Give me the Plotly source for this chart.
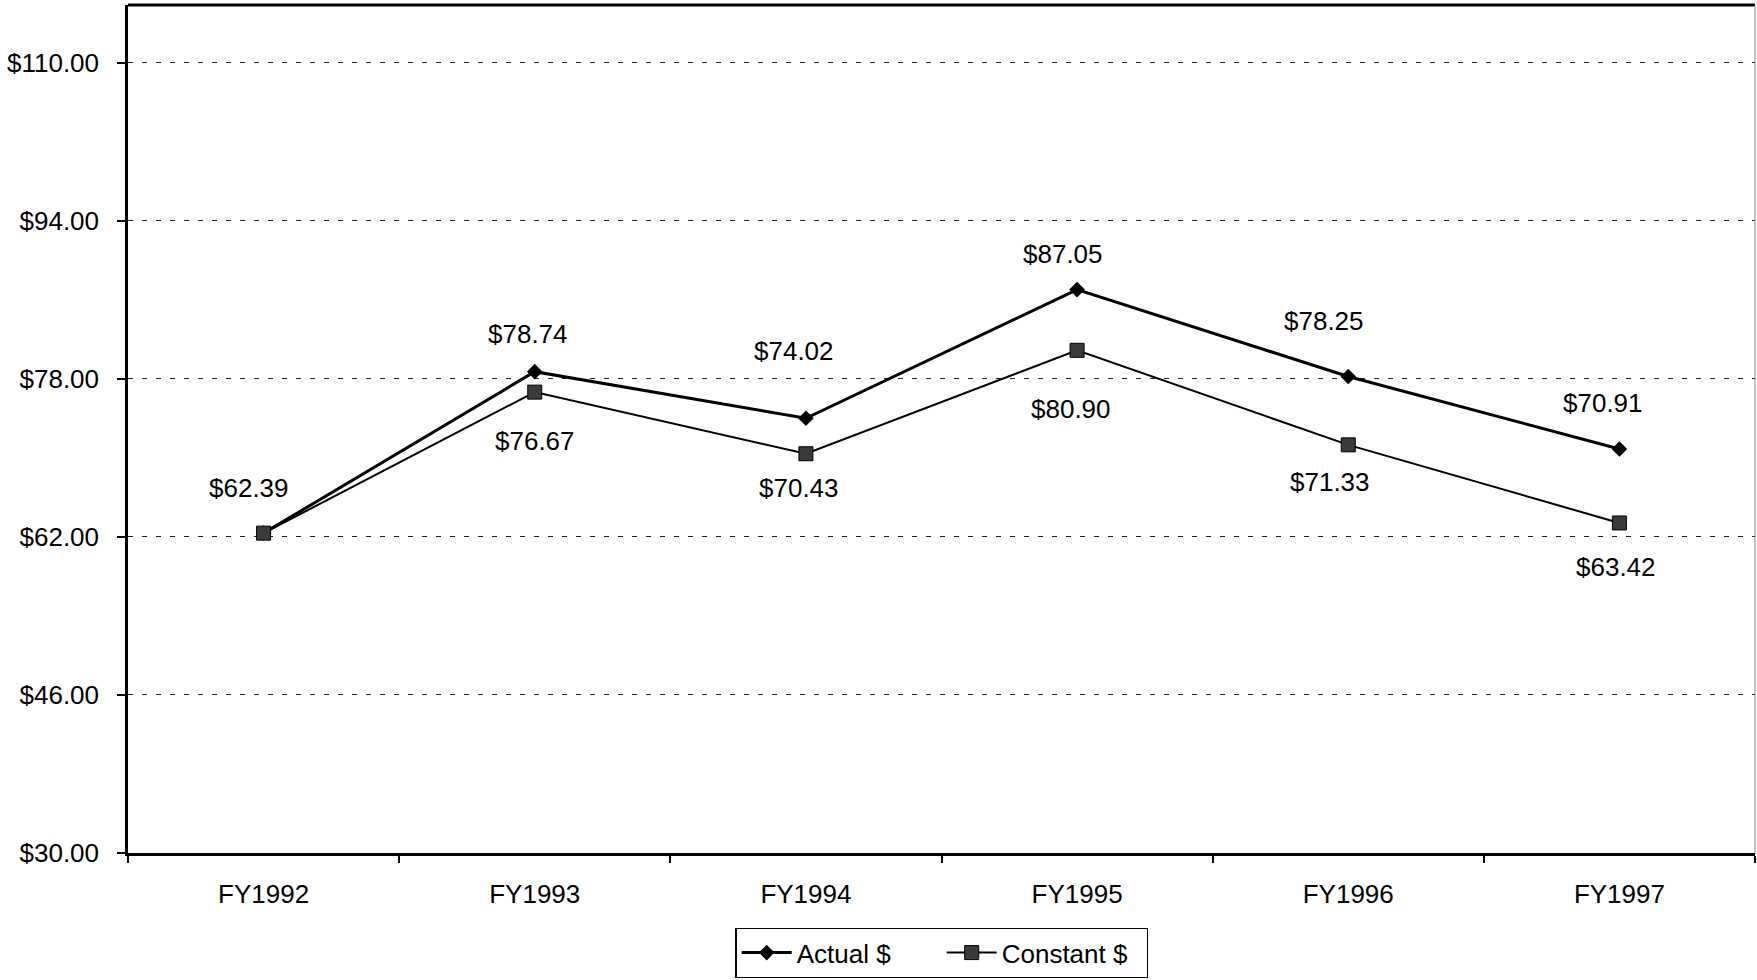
import plotly.graph_objects as go

# Fiscal years and cost per unit, actual vs constant dollars
years = ["FY1992", "FY1993", "FY1994", "FY1995", "FY1996", "FY1997"]
actual = [62.39, 78.74, 74.02, 87.05, 78.25, 70.91]
constant = [62.39, 76.67, 70.43, 80.90, 71.33, 63.42]

y_ticks = [30, 46, 62, 78, 94, 110]
y_tick_text = ["$30.00", "$46.00", "$62.00", "$78.00", "$94.00", "$110.00"]

# Pixel offsets of the value labels relative to their points
actual_label_dx = [-15, -7, -12, -14, -24, -16]
actual_label_dy = [45, 38, 67, 36, 56, 46]
constant_label_dx = [None, 0, -7, -6, -18, -3]
constant_label_dy = [None, -49, -34, -59, -37, -44]

FONT = "Liberation Sans, Arial, sans-serif"
FS = 26

fig = go.Figure()

fig.add_trace(go.Scatter(
    x=years, y=actual, name="Actual $", mode="lines+markers",
    line=dict(color="black", width=3),
    marker=dict(symbol="diamond", size=12, color="black"),
))
fig.add_trace(go.Scatter(
    x=years, y=constant, name="Constant $", mode="lines+markers",
    line=dict(color="black", width=2),
    marker=dict(symbol="square", size=14, color="#3a3a3a",
                line=dict(color="black", width=1)),
))

annotations = []
for yr, v, dx, dy in zip(years, actual, actual_label_dx, actual_label_dy):
    annotations.append(dict(x=yr, y=v, xref="x", yref="y", text=f"${v:.2f}",
                            showarrow=False, xshift=dx, yshift=dy,
                            font=dict(family=FONT, size=FS, color="black")))
for yr, v, dx, dy in zip(years, constant, constant_label_dx, constant_label_dy):
    if dx is None:
        continue
    annotations.append(dict(x=yr, y=v, xref="x", yref="y", text=f"${v:.2f}",
                            showarrow=False, xshift=dx, yshift=dy,
                            font=dict(family=FONT, size=FS, color="black")))

fig.update_layout(
    width=1757, height=980,
    margin=dict(l=128, r=2, t=5, b=127, autoexpand=False),
    paper_bgcolor="white", plot_bgcolor="white",
    font=dict(family=FONT, size=FS, color="black"),
    annotations=annotations,
    showlegend=True,
    legend=dict(
        orientation="h", x=0.5003, xanchor="center", y=-0.1179, yanchor="middle",
        bgcolor="white", bordercolor="black", borderwidth=1.2,
        font=dict(family=FONT, size=FS, color="black"),
        itemwidth=50, entrywidth=140, entrywidthmode="pixels",
        tracegroupgap=0,
    ),
    shapes=[
        dict(type="line", xref="paper", yref="paper", x0=0, x1=1, y0=1, y1=1,
             line=dict(color="black", width=3)),
        dict(type="line", xref="paper", yref="paper", x0=1, x1=1, y0=0, y1=1,
             line=dict(color="#888888", width=1)),
    ],
)

fig.update_xaxes(
    type="category", range=[-0.5, 5.5],
    showline=True, linecolor="black", linewidth=2.5,
    ticks="outside", tickson="boundaries", ticklen=7, tickcolor="black", tickwidth=1.5,
    showgrid=False, zeroline=False, ticklabelstandoff=16,
    tickfont=dict(family=FONT, size=FS, color="black"),
)
fig.update_yaxes(
    range=[30, 115.87],
    tickvals=y_ticks, ticktext=y_tick_text,
    showline=True, linecolor="black", linewidth=2.5,
    ticks="outside", ticklen=8, tickcolor="black", tickwidth=1.5,
    showgrid=True, gridcolor="#222222", gridwidth=1, griddash="5px,9px",
    zeroline=False, ticklabelstandoff=13,
    tickfont=dict(family=FONT, size=FS, color="black"),
)

fig.write_html("out.html")
